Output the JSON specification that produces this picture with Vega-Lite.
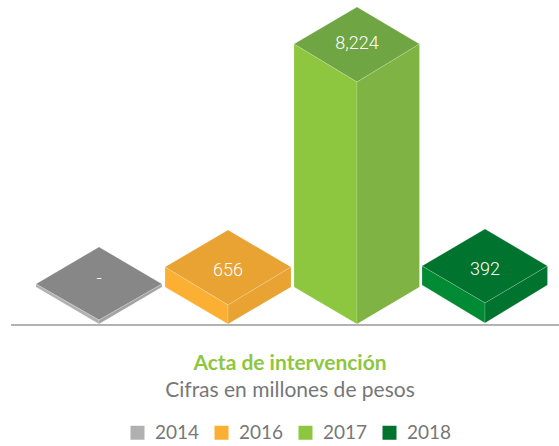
{
"$schema":"https://vega.github.io/schema/vega-lite/v6.json",
"width":559,"height":446,"padding":0,"autosize":{"type":"none"},
"background":"#ffffff",
"view":{"stroke":null},
"title":{"text":"Acta de intervención","subtitle":"Cifras en millones de pesos","orient":"top","anchor":"middle","dx":10.5,"dy":405,"font":"Lato","fontSize":21,"fontWeight":"bold","color":"#8dc63f","subtitleFont":"Lato","subtitleFontSize":21,"subtitleFontWeight":"normal","subtitleColor":"#777777","subtitlePadding":6,"frame":"group"},
"datasets":{
"faces":[
{"year":"2014","face":"top","shade":"2014 top","u":36,"low":40,"high":40},
{"year":"2014","face":"top","shade":"2014 top","u":99,"low":4,"high":77},
{"year":"2014","face":"top","shade":"2014 top","u":162,"low":40,"high":40},
{"year":"2014","face":"left","shade":"2014","u":36,"low":37,"high":40},
{"year":"2014","face":"left","shade":"2014","u":99,"low":0,"high":4},
{"year":"2014","face":"right","shade":"2014 right","u":99,"low":0,"high":4},
{"year":"2014","face":"right","shade":"2014 right","u":162,"low":37,"high":40},
{"year":"2016","face":"top","shade":"2016 top","u":165,"low":57,"high":57},
{"year":"2016","face":"top","shade":"2016 top","u":228,"low":19,"high":94},
{"year":"2016","face":"top","shade":"2016 top","u":291,"low":57,"high":57},
{"year":"2016","face":"left","shade":"2016","u":165,"low":37,"high":57},
{"year":"2016","face":"left","shade":"2016","u":228,"low":0,"high":19},
{"year":"2016","face":"right","shade":"2016 right","u":228,"low":0,"high":19},
{"year":"2016","face":"right","shade":"2016 right","u":291,"low":37,"high":57},
{"year":"2017","face":"top","shade":"2017 top","u":294,"low":280,"high":280},
{"year":"2017","face":"top","shade":"2017 top","u":357,"low":242,"high":317},
{"year":"2017","face":"top","shade":"2017 top","u":419.5,"low":280,"high":280},
{"year":"2017","face":"left","shade":"2017","u":294,"low":37,"high":280},
{"year":"2017","face":"left","shade":"2017","u":357,"low":0,"high":242},
{"year":"2017","face":"right","shade":"2017 right","u":357,"low":0,"high":242},
{"year":"2017","face":"right","shade":"2017 right","u":419.5,"low":37,"high":280},
{"year":"2018","face":"top","shade":"2018","u":422,"low":58,"high":58},
{"year":"2018","face":"top","shade":"2018","u":485,"low":21,"high":95},
{"year":"2018","face":"top","shade":"2018","u":547.5,"low":58,"high":58},
{"year":"2018","face":"left","shade":"2018 left","u":422,"low":39,"high":58},
{"year":"2018","face":"left","shade":"2018 left","u":485,"low":1,"high":21},
{"year":"2018","face":"right","shade":"2018 right","u":485,"low":1,"high":21},
{"year":"2018","face":"right","shade":"2018 right","u":547.5,"low":39,"high":58}
],
"labels":[
{"year":"2014","label":"-","u":99,"h":45},
{"year":"2016","label":"656","u":228,"h":53},
{"year":"2017","label":"8,224","u":357,"h":280},
{"year":"2018","label":"392","u":485,"h":54}
],
"ground":[{"from":11,"to":559,"h":-1}]
},
"layer":[
{"data":{"name":"faces"},
 "mark":{"type":"area","interpolate":"linear","stroke":"#ffffff","strokeWidth":0.6,"strokeOpacity":0.3},
 "encoding":{
  "x":{"field":"u","type":"quantitative","scale":{"domain":[0,559],"nice":false,"zero":false},"axis":null},
  "y":{"field":"high","type":"quantitative","scale":{"domain":[-122,324],"nice":false,"zero":false},"axis":null},
  "y2":{"field":"low"},
  "color":{"field":"shade","type":"nominal",
   "scale":{"domain":["2014","2014 top","2014 right","2016","2016 top","2016 right","2017","2017 top","2017 right","2018","2018 left","2018 right"],
            "range":["#b0b0b0","#878787","#a3a3a3","#fbb034","#e8a333","#e8a333","#8dc63f","#70a544","#7fb344","#00732e","#008a34","#00732e"]},
   "legend":{"values":["2014","2016","2017","2018"],"orient":"none","legendX":128,"legendY":423,"direction":"horizontal","columns":4,"title":null,"symbolType":"square","symbolSize":196,"symbolStrokeWidth":0,"labelFont":"Lato","labelFontSize":19,"labelColor":"#777777","labelOffset":8,"columnPadding":12,"padding":0}}
 }},
{"data":{"name":"ground"},
 "mark":{"type":"rule","color":"#999999","strokeWidth":1.5},
 "encoding":{"x":{"field":"from","type":"quantitative"},"x2":{"field":"to"},"y":{"field":"h","type":"quantitative"}}},
{"data":{"name":"labels"},
 "mark":{"type":"text","color":"#ffffff","font":"Roboto","fontSize":18,"fontWeight":300,"align":"center","baseline":"middle"},
 "encoding":{"x":{"field":"u","type":"quantitative"},"y":{"field":"h","type":"quantitative"},"text":{"field":"label","type":"nominal"}}}
]
}
